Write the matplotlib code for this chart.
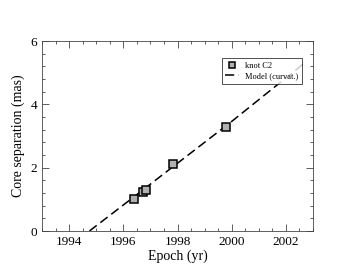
import matplotlib.pyplot as plt
from matplotlib.ticker import MultipleLocator

# observed knot C2 positions
epochs = [1996.4, 1996.72, 1996.82, 1997.85, 1999.8]
separations = [1.0, 1.22, 1.3, 2.12, 3.3]

# model curve
model_epochs = [1994.75, 1996.0, 1998.0, 2000.0, 2002.65]
model_seps = [0.0, 0.82, 2.14, 3.46, 5.28]

plt.rcParams['font.family'] = ['Liberation Serif', 'DejaVu Serif']

fig = plt.figure(figsize=(3.53, 2.73), dpi=100)
ax = fig.add_axes([42 / 353, 1 - 231 / 273, 271 / 353, 190 / 273])

ax.plot(model_epochs, model_seps, color='black', linestyle=(0, (6, 3)), lw=1.1,
        label='Model (curvat.)')
ax.plot(epochs, separations, linestyle='none', marker='s', markersize=6,
        markerfacecolor='#b0b0b0', markeredgecolor='black', markeredgewidth=1.1,
        label='knot C2')

ax.set_xlim(1993, 2003)
ax.set_ylim(0, 6)
ax.xaxis.set_major_locator(MultipleLocator(2))
ax.xaxis.set_minor_locator(MultipleLocator(0.5))
ax.yaxis.set_major_locator(MultipleLocator(2))
ax.yaxis.set_minor_locator(MultipleLocator(0.4))
ax.tick_params(which='both', direction='in', top=True, right=True, labelsize=9.5,
               width=0.6, color='#444444')
ax.tick_params(which='major', length=5)
ax.tick_params(which='minor', length=2.5)
for s in ax.spines.values():
    s.set_linewidth(0.6)
    s.set_color('#444444')

ax.set_xlabel('Epoch (yr)', fontsize=10, labelpad=1)
ax.set_ylabel('Core separation (mas)', fontsize=10, labelpad=4)

h, l = ax.get_legend_handles_labels()
leg = ax.legend(h[::-1], l[::-1], loc='upper right', bbox_to_anchor=(0.975, 0.93),
                fontsize=6, frameon=True, fancybox=False, edgecolor='black',
                handlelength=1.6, borderpad=0.4, labelspacing=0.3, markerscale=0.8)
leg.get_frame().set_linewidth(0.6)

fig.savefig('out.png', dpi=100)
